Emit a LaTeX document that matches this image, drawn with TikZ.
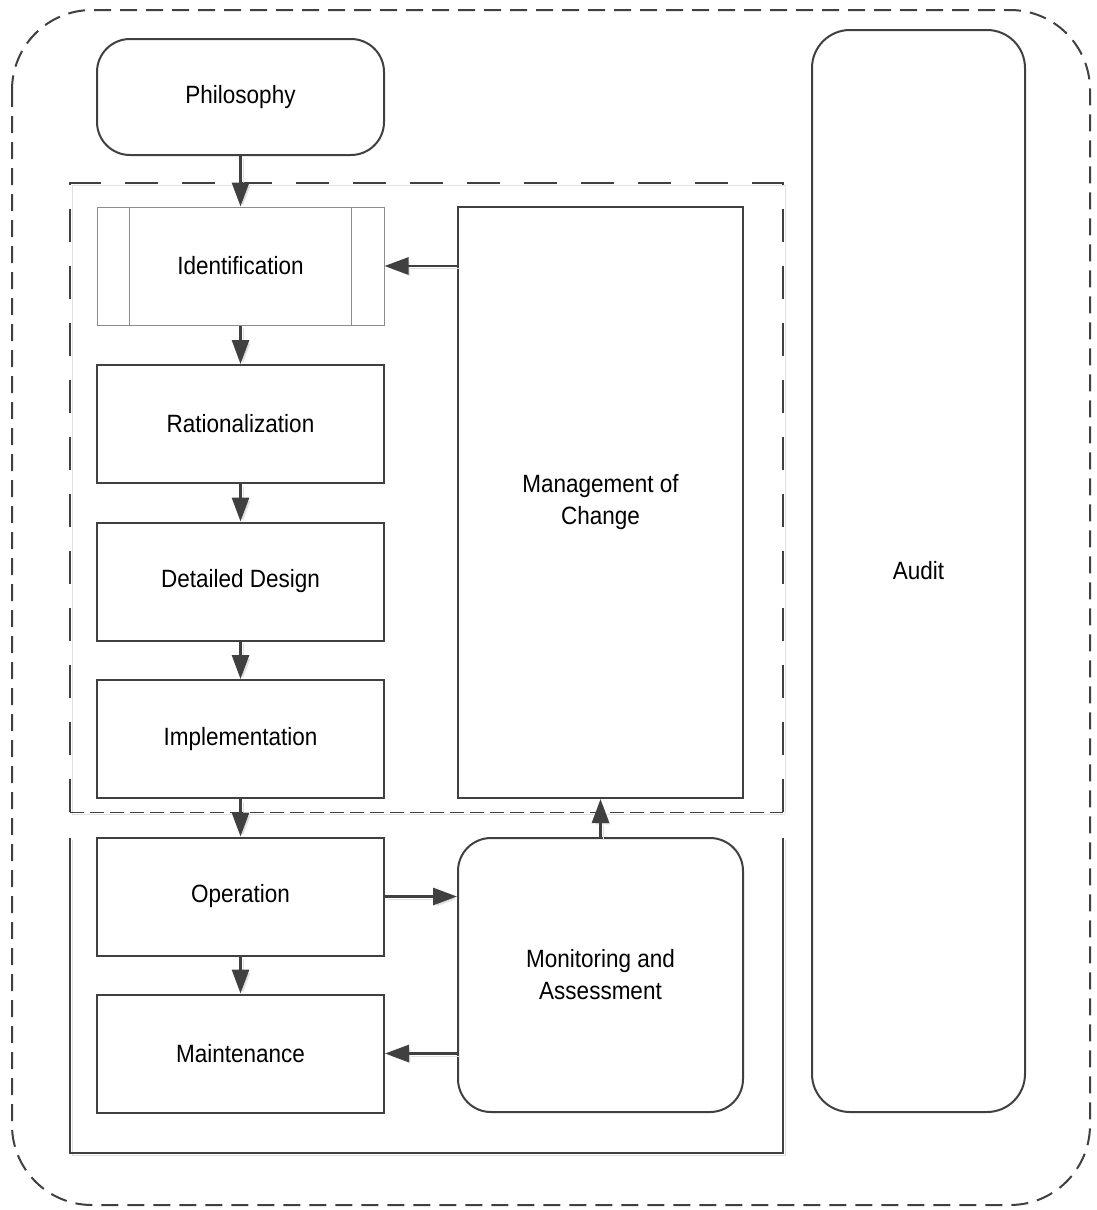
\documentclass[tikz,border=0pt]{standalone}
\usepackage{fontspec}
\setmainfont{Liberation Sans}[FakeStretch=0.9]
\usetikzlibrary{arrows.meta}
\definecolor{ln}{HTML}{404040}
\definecolor{shd}{HTML}{E0E0E0}
\begin{document}
\begin{tikzpicture}[x=1pt,y=-1pt,
  every node/.style={font=\fontsize{25}{32}\selectfont, align=center, inner sep=0pt},
  box/.style={draw=ln, line width=2pt, fill=white, minimum width=287pt, minimum height=118pt},
  rbox/.style={box, rounded corners=33pt},
  predef/.style={draw=black!45, line width=1pt, fill=white, minimum width=287pt, minimum height=118pt},
  arr/.style={draw=ln, line width=2.8pt, -{Triangle[length=24pt,width=17pt]},
    preaction={draw=shd, transform canvas={shift={(2.5pt,-2.5pt)}}}},
  cont/.style={draw=ln, line width=2pt,
    preaction={draw=shd, transform canvas={shift={(2pt,-2pt)}}}},
  outer/.style={draw=ln, line width=2pt, dash pattern=on 17pt off 9pt, rounded corners=80pt}
]
\useasboundingbox (0,0) rectangle (1097,1210);

% outer dashed frame
\draw[outer] (12,10) rectangle (1090,1205);

% containers
\draw[cont, dash pattern=on 33pt off 24pt] (70,812) -- (70,183) -- (783,183) -- (783,812);
\draw[draw=ln, line width=1pt, dash pattern=on 14pt off 6pt,
  preaction={draw=shd, transform canvas={shift={(2pt,-2pt)}}}] (70,812) -- (783,812);
\draw[cont] (70,838) -- (70,1153) -- (783,1153) -- (783,838);

% nodes
\node[rbox, minimum height=116pt] (phil) at (240.5,97) {Philosophy};
\node[predef] (ident) at (240.5,266) {Identification};
\draw[draw=black!45, line width=1pt] ([xshift=33pt]ident.north west) -- ([xshift=33pt]ident.south west);
\draw[draw=black!45, line width=1pt] ([xshift=-33pt]ident.north east) -- ([xshift=-33pt]ident.south east);
\node[box] (rat) at (240.5,424) {Rationalization};
\node[box] (det) at (240.5,581.5) {Detailed Design};
\node[box] (impl) at (240.5,739) {Implementation};
\node[box] (op) at (240.5,896.5) {Operation};
\node[box] (maint) at (240.5,1053.5) {Maintenance};
\node[box, minimum width=285pt, minimum height=591pt] (moc) at (600.5,502.5) {Management of\\Change};
\node[rbox, minimum width=285pt, minimum height=274pt] (mon) at (600.5,975) {Monitoring and\\Assessment};
\node[box, rounded corners=38pt, minimum width=213pt, minimum height=1082pt] (audit) at (918.5,571) {Audit};

% connectors
\draw[arr] (phil.south) -- (ident.north);
\draw[arr] (ident.south) -- (rat.north);
\draw[arr] (rat.south) -- (det.north);
\draw[arr] (det.south) -- (impl.north);
\draw[arr] (impl.south) -- (op.north);
\draw[arr] (op.south) -- (maint.north);
\draw[arr] (moc.west |- ident.east) -- (ident.east);
\draw[arr] (op.east) -- (op.east -| mon.west);
\draw[arr] (mon.west |- maint.east) -- (maint.east);
\draw[arr] (mon.north) -- (moc.south);
\end{tikzpicture}
\end{document}
